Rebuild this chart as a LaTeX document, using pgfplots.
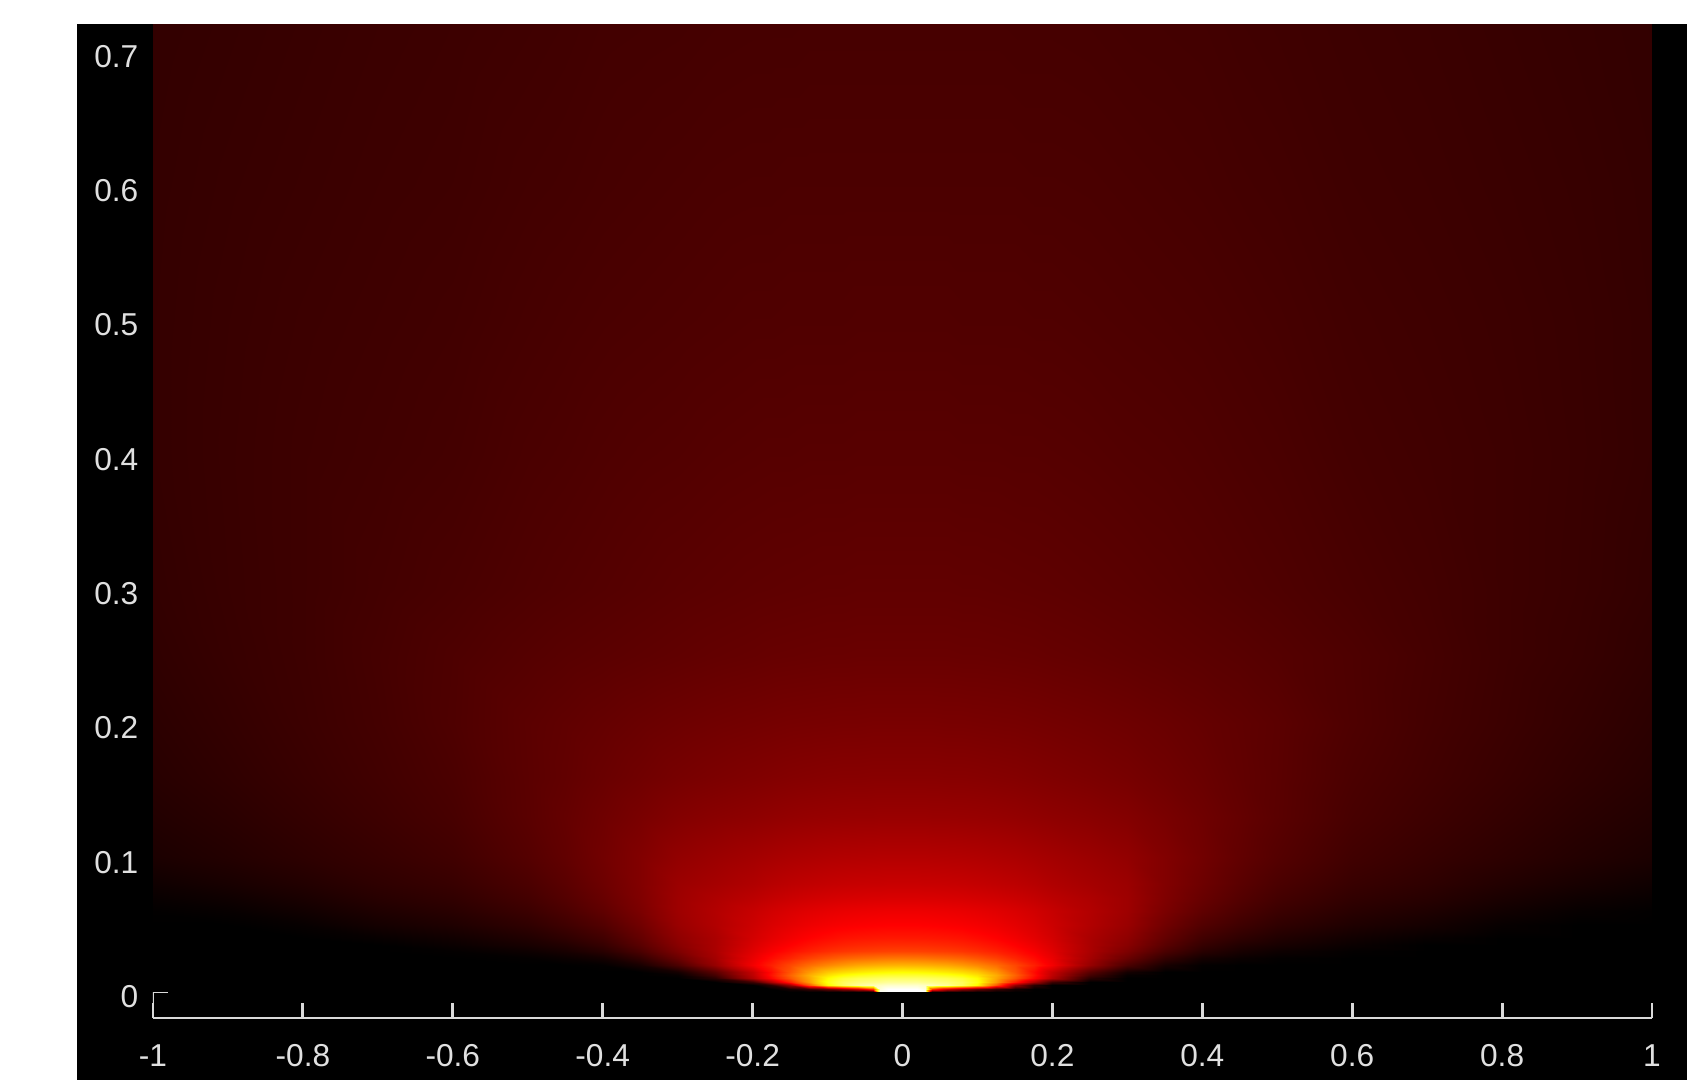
\documentclass[border=0pt]{standalone}
\usepackage{fontspec}
\setmainfont{Liberation Sans}
\usepackage{pgfplots}
\pgfplotsset{compat=1.18}
\begin{document}
\begin{tikzpicture}
\useasboundingbox (0,0) rectangle (404.88pt,259.2pt);
\fill[white] (0,0) rectangle (404.88pt,259.2pt);
\fill[black] (18.48pt,0) rectangle (404.88pt,253.44pt);
\begin{axis}[
  at={(36.72pt,14.88pt)}, anchor=south west,
  scale only axis, width=359.76pt, height=238.56pt,
  xmin=-1, xmax=1, ymin=-0.0195, ymax=0.7202,
  axis x line=bottom, axis y line=left,
  axis line style={-, draw=white!85!black, line width=0.7pt},
  y axis line style={draw=none},
  xtick={-1,-0.8,-0.6,-0.4,-0.2,0,0.2,0.4,0.6,0.8,1},
  ytick={0,0.1,0.2,0.3,0.4,0.5,0.6,0.7},
  tick style={draw=white!85!black, line width=0.7pt},
  y tick style={draw=none},
  extra y ticks={0}, extra y tick labels={},
  extra y tick style={y tick style={draw=white!85!black, line width=0.7pt}},
  major tick length=3.6pt, tick align=inside,
  ticklabel style={font=\fontsize{7.6}{8}\selectfont, text=white!88!black},
  xticklabel style={yshift=-2.85pt},
  yticklabel style={xshift=0pt, yshift=-1.2pt},
  /pgf/number format/assume math mode=true,
  /pgf/number format/fixed,
  colormap={hotm}{rgb255(0pt)=(0,0,0) rgb255(3pt)=(255,0,0) rgb255(6pt)=(255,255,0) rgb255(8pt)=(255,255,255)},
  point meta min=0, point meta max=1,
]
\draw[white!85!black, line width=0.7pt] (axis cs:-1,-0.0195) -- (axis cs:-1,0);
\addplot[surf, shader=interp, mesh/cols=43, point meta=\thisrow{t}] table {
x y t
-1 0 0
-0.9 0 0
-0.8 0 0
-0.7 0 0
-0.6 0 0
-0.5 0 0
-0.45 0 0
-0.4 0 0
-0.35 0 0
-0.3 0 0
-0.25 0 0
-0.2 0 0
-0.175 0 0
-0.15 0 0
-0.125 0 0
-0.1 0 0
-0.08 0 0
-0.06 0 0
-0.04 0 0
-0.03 0 1
-0.02 0 1
0 0 1
0.02 0 1
0.03 0 1
0.04 0 0
0.06 0 0
0.08 0 0
0.1 0 0
0.125 0 0
0.15 0 0
0.175 0 0
0.2 0 0
0.25 0 0
0.3 0 0
0.35 0 0
0.4 0 0
0.45 0 0
0.5 0 0
0.6 0 0
0.7 0 0
0.8 0 0
0.9 0 0
1 0 0
-1 0.002 0
-0.9 0.002 0
-0.8 0.002 0
-0.7 0.002 0
-0.6 0.002 0
-0.5 0.002 0
-0.45 0.002 0
-0.4 0.002 0
-0.35 0.002 0
-0.3 0.002 0
-0.25 0.002 0
-0.2 0.002 0
-0.175 0.002 0
-0.15 0.002 0.03
-0.125 0.002 0.08
-0.1 0.002 0.15
-0.08 0.002 0.22
-0.06 0.002 0.3
-0.04 0.002 0.45
-0.03 0.002 0.97
-0.02 0.002 1
0 0.002 1
0.02 0.002 1
0.03 0.002 0.97
0.04 0.002 0.45
0.06 0.002 0.3
0.08 0.002 0.22
0.1 0.002 0.15
0.125 0.002 0.08
0.15 0.002 0.03
0.175 0.002 0
0.2 0.002 0
0.25 0.002 0
0.3 0.002 0
0.35 0.002 0
0.4 0.002 0
0.45 0.002 0
0.5 0.002 0
0.6 0.002 0
0.7 0.002 0
0.8 0.002 0
0.9 0.002 0
1 0.002 0
-1 0.005 0
-0.9 0.005 0
-0.8 0.005 0
-0.7 0.005 0
-0.6 0.005 0
-0.5 0.005 0
-0.45 0.005 0
-0.4 0.005 0
-0.35 0.005 0
-0.3 0.005 0
-0.25 0.005 0
-0.2 0.005 0
-0.175 0.005 0.06
-0.15 0.005 0.22
-0.125 0.005 0.5
-0.1 0.005 0.74
-0.08 0.005 0.84
-0.06 0.005 0.9
-0.04 0.005 0.93
-0.03 0.005 0.94
-0.02 0.005 0.95
0 0.005 0.95
0.02 0.005 0.95
0.03 0.005 0.94
0.04 0.005 0.93
0.06 0.005 0.9
0.08 0.005 0.84
0.1 0.005 0.74
0.125 0.005 0.5
0.15 0.005 0.22
0.175 0.005 0.06
0.2 0.005 0
0.25 0.005 0
0.3 0.005 0
0.35 0.005 0
0.4 0.005 0
0.45 0.005 0
0.5 0.005 0
0.6 0.005 0
0.7 0.005 0
0.8 0.005 0
0.9 0.005 0
1 0.005 0
-1 0.0075 0
-0.9 0.0075 0
-0.8 0.0075 0
-0.7 0.0075 0
-0.6 0.0075 0
-0.5 0.0075 0
-0.45 0.0075 0
-0.4 0.0075 0
-0.35 0.0075 0
-0.3 0.0075 0
-0.25 0.0075 0
-0.2 0.0075 0.09
-0.175 0.0075 0.25
-0.15 0.0075 0.42
-0.125 0.0075 0.6
-0.1 0.0075 0.77
-0.08 0.0075 0.84
-0.06 0.0075 0.87
-0.04 0.0075 0.885
-0.03 0.0075 0.89
-0.02 0.0075 0.9
0 0.0075 0.9
0.02 0.0075 0.9
0.03 0.0075 0.89
0.04 0.0075 0.885
0.06 0.0075 0.87
0.08 0.0075 0.84
0.1 0.0075 0.77
0.125 0.0075 0.6
0.15 0.0075 0.42
0.175 0.0075 0.25
0.2 0.0075 0.09
0.25 0.0075 0
0.3 0.0075 0
0.35 0.0075 0
0.4 0.0075 0
0.45 0.0075 0
0.5 0.0075 0
0.6 0.0075 0
0.7 0.0075 0
0.8 0.0075 0
0.9 0.0075 0
1 0.0075 0
-1 0.01 0
-0.9 0.01 0
-0.8 0.01 0
-0.7 0.01 0
-0.6 0.01 0
-0.5 0.01 0
-0.45 0.01 0
-0.4 0.01 0
-0.35 0.01 0
-0.3 0.01 0
-0.25 0.01 0.06
-0.2 0.01 0.26
-0.175 0.01 0.38
-0.15 0.01 0.5
-0.125 0.01 0.62
-0.1 0.01 0.75
-0.08 0.01 0.805
-0.06 0.01 0.83
-0.04 0.01 0.84
-0.03 0.01 0.845
-0.02 0.01 0.85
0 0.01 0.85
0.02 0.01 0.85
0.03 0.01 0.845
0.04 0.01 0.84
0.06 0.01 0.83
0.08 0.01 0.805
0.1 0.01 0.75
0.125 0.01 0.62
0.15 0.01 0.5
0.175 0.01 0.38
0.2 0.01 0.26
0.25 0.01 0.06
0.3 0.01 0
0.35 0.01 0
0.4 0.01 0
0.45 0.01 0
0.5 0.01 0
0.6 0.01 0
0.7 0.01 0
0.8 0.01 0
0.9 0.01 0
1 0.01 0
-1 0.0125 0
-0.9 0.0125 0
-0.8 0.0125 0
-0.7 0.0125 0
-0.6 0.0125 0
-0.5 0.0125 0
-0.45 0.0125 0
-0.4 0.0125 0
-0.35 0.0125 0
-0.3 0.0125 0.01
-0.25 0.0125 0.1
-0.2 0.0125 0.28
-0.175 0.0125 0.4
-0.15 0.0125 0.52
-0.125 0.0125 0.63
-0.1 0.0125 0.71
-0.08 0.0125 0.75
-0.06 0.0125 0.775
-0.04 0.0125 0.79
-0.03 0.0125 0.795
-0.02 0.0125 0.8
0 0.0125 0.8
0.02 0.0125 0.8
0.03 0.0125 0.795
0.04 0.0125 0.79
0.06 0.0125 0.775
0.08 0.0125 0.75
0.1 0.0125 0.71
0.125 0.0125 0.63
0.15 0.0125 0.52
0.175 0.0125 0.4
0.2 0.0125 0.28
0.25 0.0125 0.1
0.3 0.0125 0.01
0.35 0.0125 0
0.4 0.0125 0
0.45 0.0125 0
0.5 0.0125 0
0.6 0.0125 0
0.7 0.0125 0
0.8 0.0125 0
0.9 0.0125 0
1 0.0125 0
-1 0.015 0
-0.9 0.015 0
-0.8 0.015 0
-0.7 0.015 0
-0.6 0.015 0
-0.5 0.015 0
-0.45 0.015 0
-0.4 0.015 0
-0.35 0.015 0
-0.3 0.015 0.03
-0.25 0.015 0.13
-0.2 0.015 0.29
-0.175 0.015 0.39
-0.15 0.015 0.5
-0.125 0.015 0.6
-0.1 0.015 0.67
-0.08 0.015 0.7
-0.06 0.015 0.72
-0.04 0.015 0.735
-0.03 0.015 0.74
-0.02 0.015 0.745
0 0.015 0.75
0.02 0.015 0.745
0.03 0.015 0.74
0.04 0.015 0.735
0.06 0.015 0.72
0.08 0.015 0.7
0.1 0.015 0.67
0.125 0.015 0.6
0.15 0.015 0.5
0.175 0.015 0.39
0.2 0.015 0.29
0.25 0.015 0.13
0.3 0.015 0.03
0.35 0.015 0
0.4 0.015 0
0.45 0.015 0
0.5 0.015 0
0.6 0.015 0
0.7 0.015 0
0.8 0.015 0
0.9 0.015 0
1 0.015 0
-1 0.02 0
-0.9 0.02 0
-0.8 0.02 0
-0.7 0.02 0
-0.6 0.02 0
-0.5 0.02 0
-0.45 0.02 0
-0.4 0.02 0.005
-0.35 0.02 0.035
-0.3 0.02 0.11
-0.25 0.02 0.22
-0.2 0.02 0.36
-0.175 0.02 0.42
-0.15 0.02 0.48
-0.125 0.02 0.535
-0.1 0.02 0.575
-0.08 0.02 0.6
-0.06 0.02 0.62
-0.04 0.02 0.63
-0.03 0.02 0.634
-0.02 0.02 0.637
0 0.02 0.64
0.02 0.02 0.637
0.03 0.02 0.634
0.04 0.02 0.63
0.06 0.02 0.62
0.08 0.02 0.6
0.1 0.02 0.575
0.125 0.02 0.535
0.15 0.02 0.48
0.175 0.02 0.42
0.2 0.02 0.36
0.25 0.02 0.22
0.3 0.02 0.11
0.35 0.02 0.035
0.4 0.02 0.005
0.45 0.02 0
0.5 0.02 0
0.6 0.02 0
0.7 0.02 0
0.8 0.02 0
0.9 0.02 0
1 0.02 0
-1 0.025 0
-0.9 0.025 0
-0.8 0.025 0
-0.7 0.025 0
-0.6 0.025 0
-0.5 0.025 0.005
-0.45 0.025 0.015
-0.4 0.025 0.03
-0.35 0.025 0.075
-0.3 0.025 0.155
-0.25 0.025 0.24
-0.2 0.025 0.345
-0.175 0.025 0.39
-0.15 0.025 0.43
-0.125 0.025 0.47
-0.1 0.025 0.5
-0.08 0.025 0.52
-0.06 0.025 0.532
-0.04 0.025 0.54
-0.03 0.025 0.545
-0.02 0.025 0.548
0 0.025 0.55
0.02 0.025 0.548
0.03 0.025 0.545
0.04 0.025 0.54
0.06 0.025 0.532
0.08 0.025 0.52
0.1 0.025 0.5
0.125 0.025 0.47
0.15 0.025 0.43
0.175 0.025 0.39
0.2 0.025 0.345
0.25 0.025 0.24
0.3 0.025 0.155
0.35 0.025 0.075
0.4 0.025 0.03
0.45 0.025 0.015
0.5 0.025 0.005
0.6 0.025 0
0.7 0.025 0
0.8 0.025 0
0.9 0.025 0
1 0.025 0
-1 0.03 0
-0.9 0.03 0
-0.8 0.03 0
-0.7 0.03 0
-0.6 0.03 0.005
-0.5 0.03 0.02
-0.45 0.03 0.035
-0.4 0.03 0.06
-0.35 0.03 0.11
-0.3 0.03 0.185
-0.25 0.03 0.25
-0.2 0.03 0.33
-0.175 0.03 0.365
-0.15 0.03 0.395
-0.125 0.03 0.42
-0.1 0.03 0.44
-0.08 0.03 0.452
-0.06 0.03 0.46
-0.04 0.03 0.465
-0.03 0.03 0.467
-0.02 0.03 0.469
0 0.03 0.47
0.02 0.03 0.469
0.03 0.03 0.467
0.04 0.03 0.465
0.06 0.03 0.46
0.08 0.03 0.452
0.1 0.03 0.44
0.125 0.03 0.42
0.15 0.03 0.395
0.175 0.03 0.365
0.2 0.03 0.33
0.25 0.03 0.25
0.3 0.03 0.185
0.35 0.03 0.11
0.4 0.03 0.06
0.45 0.03 0.035
0.5 0.03 0.02
0.6 0.03 0.005
0.7 0.03 0
0.8 0.03 0
0.9 0.03 0
1 0.03 0
-1 0.035 0
-0.9 0.035 0
-0.8 0.035 0
-0.7 0.035 0
-0.6 0.035 0.015
-0.5 0.035 0.035
-0.45 0.035 0.05
-0.4 0.035 0.078
-0.35 0.035 0.13
-0.3 0.035 0.2
-0.25 0.035 0.25
-0.2 0.035 0.32
-0.175 0.035 0.35
-0.15 0.035 0.375
-0.125 0.035 0.398
-0.1 0.035 0.415
-0.08 0.035 0.425
-0.06 0.035 0.432
-0.04 0.035 0.436
-0.03 0.035 0.438
-0.02 0.035 0.439
0 0.035 0.44
0.02 0.035 0.439
0.03 0.035 0.438
0.04 0.035 0.436
0.06 0.035 0.432
0.08 0.035 0.425
0.1 0.035 0.415
0.125 0.035 0.398
0.15 0.035 0.375
0.175 0.035 0.35
0.2 0.035 0.32
0.25 0.035 0.25
0.3 0.035 0.2
0.35 0.035 0.13
0.4 0.035 0.078
0.45 0.035 0.05
0.5 0.035 0.035
0.6 0.035 0.015
0.7 0.035 0
0.8 0.035 0
0.9 0.035 0
1 0.035 0
-1 0.04 0
-0.9 0.04 0
-0.8 0.04 0
-0.7 0.04 0.01
-0.6 0.04 0.025
-0.5 0.04 0.048
-0.45 0.04 0.068
-0.4 0.04 0.095
-0.35 0.04 0.145
-0.3 0.04 0.21
-0.25 0.04 0.25
-0.2 0.04 0.31
-0.175 0.04 0.335
-0.15 0.04 0.357
-0.125 0.04 0.376
-0.1 0.04 0.39
-0.08 0.04 0.4
-0.06 0.04 0.405
-0.04 0.04 0.408
-0.03 0.04 0.409
-0.02 0.04 0.41
0 0.04 0.41
0.02 0.04 0.41
0.03 0.04 0.409
0.04 0.04 0.408
0.06 0.04 0.405
0.08 0.04 0.4
0.1 0.04 0.39
0.125 0.04 0.376
0.15 0.04 0.357
0.175 0.04 0.335
0.2 0.04 0.31
0.25 0.04 0.25
0.3 0.04 0.21
0.35 0.04 0.145
0.4 0.04 0.095
0.45 0.04 0.068
0.5 0.04 0.048
0.6 0.04 0.025
0.7 0.04 0.01
0.8 0.04 0
0.9 0.04 0
1 0.04 0
-1 0.05 0
-0.9 0.05 0
-0.8 0.05 0.01
-0.7 0.05 0.03
-0.6 0.05 0.045
-0.5 0.05 0.07
-0.45 0.05 0.092
-0.4 0.05 0.12
-0.35 0.05 0.165
-0.3 0.05 0.225
-0.25 0.05 0.26
-0.2 0.05 0.3
-0.175 0.05 0.32
-0.15 0.05 0.336
-0.125 0.05 0.35
-0.1 0.05 0.36
-0.08 0.05 0.366
-0.06 0.05 0.37
-0.04 0.05 0.373
-0.03 0.05 0.374
-0.02 0.05 0.375
0 0.05 0.375
0.02 0.05 0.375
0.03 0.05 0.374
0.04 0.05 0.373
0.06 0.05 0.37
0.08 0.05 0.366
0.1 0.05 0.36
0.125 0.05 0.35
0.15 0.05 0.336
0.175 0.05 0.32
0.2 0.05 0.3
0.25 0.05 0.26
0.3 0.05 0.225
0.35 0.05 0.165
0.4 0.05 0.12
0.45 0.05 0.092
0.5 0.05 0.07
0.6 0.05 0.045
0.7 0.05 0.03
0.8 0.05 0.01
0.9 0.05 0
1 0.05 0
-1 0.06 0.003
-0.9 0.06 0.01
-0.8 0.06 0.025
-0.7 0.06 0.045
-0.6 0.06 0.06
-0.5 0.06 0.087
-0.45 0.06 0.11
-0.4 0.06 0.14
-0.35 0.06 0.18
-0.3 0.06 0.232
-0.25 0.06 0.262
-0.2 0.06 0.292
-0.175 0.06 0.307
-0.15 0.06 0.32
-0.125 0.06 0.33
-0.1 0.06 0.338
-0.08 0.06 0.343
-0.06 0.06 0.346
-0.04 0.06 0.348
-0.03 0.06 0.349
-0.02 0.06 0.35
0 0.06 0.35
0.02 0.06 0.35
0.03 0.06 0.349
0.04 0.06 0.348
0.06 0.06 0.346
0.08 0.06 0.343
0.1 0.06 0.338
0.125 0.06 0.33
0.15 0.06 0.32
0.175 0.06 0.307
0.2 0.06 0.292
0.25 0.06 0.262
0.3 0.06 0.232
0.35 0.06 0.18
0.4 0.06 0.14
0.45 0.06 0.11
0.5 0.06 0.087
0.6 0.06 0.06
0.7 0.06 0.045
0.8 0.06 0.025
0.9 0.06 0.01
1 0.06 0.003
-1 0.07 0.012
-0.9 0.07 0.022
-0.8 0.07 0.038
-0.7 0.07 0.058
-0.6 0.07 0.072
-0.5 0.07 0.1
-0.45 0.07 0.123
-0.4 0.07 0.152
-0.35 0.07 0.187
-0.3 0.07 0.232
-0.25 0.07 0.255
-0.2 0.07 0.275
-0.175 0.07 0.287
-0.15 0.07 0.297
-0.125 0.07 0.305
-0.1 0.07 0.311
-0.08 0.07 0.315
-0.06 0.07 0.317
-0.04 0.07 0.319
-0.03 0.07 0.319
-0.02 0.07 0.32
0 0.07 0.32
0.02 0.07 0.32
0.03 0.07 0.319
0.04 0.07 0.319
0.06 0.07 0.317
0.08 0.07 0.315
0.1 0.07 0.311
0.125 0.07 0.305
0.15 0.07 0.297
0.175 0.07 0.287
0.2 0.07 0.275
0.25 0.07 0.255
0.3 0.07 0.232
0.35 0.07 0.187
0.4 0.07 0.152
0.45 0.07 0.123
0.5 0.07 0.1
0.6 0.07 0.072
0.7 0.07 0.058
0.8 0.07 0.038
0.9 0.07 0.022
1 0.07 0.012
-1 0.08 0.022
-0.9 0.08 0.035
-0.8 0.08 0.05
-0.7 0.08 0.068
-0.6 0.08 0.082
-0.5 0.08 0.11
-0.45 0.08 0.132
-0.4 0.08 0.16
-0.35 0.08 0.19
-0.3 0.08 0.228
-0.25 0.08 0.243
-0.2 0.08 0.259
-0.175 0.08 0.269
-0.15 0.08 0.277
-0.125 0.08 0.283
-0.1 0.08 0.288
-0.08 0.08 0.291
-0.06 0.08 0.293
-0.04 0.08 0.294
-0.03 0.08 0.294
-0.02 0.08 0.295
0 0.08 0.295
0.02 0.08 0.295
0.03 0.08 0.294
0.04 0.08 0.294
0.06 0.08 0.293
0.08 0.08 0.291
0.1 0.08 0.288
0.125 0.08 0.283
0.15 0.08 0.277
0.175 0.08 0.269
0.2 0.08 0.259
0.25 0.08 0.243
0.3 0.08 0.228
0.35 0.08 0.19
0.4 0.08 0.16
0.45 0.08 0.132
0.5 0.08 0.11
0.6 0.08 0.082
0.7 0.08 0.068
0.8 0.08 0.05
0.9 0.08 0.035
1 0.08 0.022
-1 0.1 0.04
-0.9 0.1 0.052
-0.8 0.1 0.066
-0.7 0.1 0.08
-0.6 0.1 0.095
-0.5 0.1 0.124
-0.45 0.1 0.143
-0.4 0.1 0.167
-0.35 0.1 0.19
-0.3 0.1 0.215
-0.25 0.1 0.228
-0.2 0.1 0.24
-0.175 0.1 0.246
-0.15 0.1 0.252
-0.125 0.1 0.256
-0.1 0.1 0.26
-0.08 0.1 0.262
-0.06 0.1 0.263
-0.04 0.1 0.264
-0.03 0.1 0.265
-0.02 0.1 0.265
0 0.1 0.265
0.02 0.1 0.265
0.03 0.1 0.265
0.04 0.1 0.264
0.06 0.1 0.263
0.08 0.1 0.262
0.1 0.1 0.26
0.125 0.1 0.256
0.15 0.1 0.252
0.175 0.1 0.246
0.2 0.1 0.24
0.25 0.1 0.228
0.3 0.1 0.215
0.35 0.1 0.19
0.4 0.1 0.167
0.45 0.1 0.143
0.5 0.1 0.124
0.6 0.1 0.095
0.7 0.1 0.08
0.8 0.1 0.066
0.9 0.1 0.052
1 0.1 0.04
-1 0.13 0.05
-0.9 0.13 0.062
-0.8 0.13 0.076
-0.7 0.13 0.09
-0.6 0.13 0.105
-0.5 0.13 0.132
-0.45 0.13 0.147
-0.4 0.13 0.163
-0.35 0.13 0.178
-0.3 0.13 0.193
-0.25 0.13 0.202
-0.2 0.13 0.209
-0.175 0.13 0.213
-0.15 0.13 0.217
-0.125 0.13 0.22
-0.1 0.13 0.222
-0.08 0.13 0.223
-0.06 0.13 0.224
-0.04 0.13 0.224
-0.03 0.13 0.225
-0.02 0.13 0.225
0 0.13 0.225
0.02 0.13 0.225
0.03 0.13 0.225
0.04 0.13 0.224
0.06 0.13 0.224
0.08 0.13 0.223
0.1 0.13 0.222
0.125 0.13 0.22
0.15 0.13 0.217
0.175 0.13 0.213
0.2 0.13 0.209
0.25 0.13 0.202
0.3 0.13 0.193
0.35 0.13 0.178
0.4 0.13 0.163
0.45 0.13 0.147
0.5 0.13 0.132
0.6 0.13 0.105
0.7 0.13 0.09
0.8 0.13 0.076
0.9 0.13 0.062
1 0.13 0.05
-1 0.16 0.058
-0.9 0.16 0.07
-0.8 0.16 0.083
-0.7 0.16 0.096
-0.6 0.16 0.11
-0.5 0.16 0.133
-0.45 0.16 0.143
-0.4 0.16 0.155
-0.35 0.16 0.165
-0.3 0.16 0.175
-0.25 0.16 0.182
-0.2 0.16 0.188
-0.175 0.16 0.191
-0.15 0.16 0.194
-0.125 0.16 0.196
-0.1 0.16 0.198
-0.08 0.16 0.199
-0.06 0.16 0.199
-0.04 0.16 0.2
-0.03 0.16 0.2
-0.02 0.16 0.2
0 0.16 0.2
0.02 0.16 0.2
0.03 0.16 0.2
0.04 0.16 0.2
0.06 0.16 0.199
0.08 0.16 0.199
0.1 0.16 0.198
0.125 0.16 0.196
0.15 0.16 0.194
0.175 0.16 0.191
0.2 0.16 0.188
0.25 0.16 0.182
0.3 0.16 0.175
0.35 0.16 0.165
0.4 0.16 0.155
0.45 0.16 0.143
0.5 0.16 0.133
0.6 0.16 0.11
0.7 0.16 0.096
0.8 0.16 0.083
0.9 0.16 0.07
1 0.16 0.058
-1 0.2 0.064
-0.9 0.2 0.076
-0.8 0.2 0.088
-0.7 0.2 0.1
-0.6 0.2 0.115
-0.5 0.2 0.134
-0.45 0.2 0.141
-0.4 0.2 0.148
-0.35 0.2 0.155
-0.3 0.2 0.161
-0.25 0.2 0.166
-0.2 0.2 0.17
-0.175 0.2 0.172
-0.15 0.2 0.174
-0.125 0.2 0.175
-0.1 0.2 0.176
-0.08 0.2 0.177
-0.06 0.2 0.177
-0.04 0.2 0.178
-0.03 0.2 0.178
-0.02 0.2 0.178
0 0.2 0.178
0.02 0.2 0.178
0.03 0.2 0.178
0.04 0.2 0.178
0.06 0.2 0.177
0.08 0.2 0.177
0.1 0.2 0.176
0.125 0.2 0.175
0.15 0.2 0.174
0.175 0.2 0.172
0.2 0.2 0.17
0.25 0.2 0.166
0.3 0.2 0.161
0.35 0.2 0.155
0.4 0.2 0.148
0.45 0.2 0.141
0.5 0.2 0.134
0.6 0.2 0.115
0.7 0.2 0.1
0.8 0.2 0.088
0.9 0.2 0.076
1 0.2 0.064
-1 0.25 0.07
-0.9 0.25 0.081
-0.8 0.25 0.09
-0.7 0.25 0.102
-0.6 0.25 0.114
-0.5 0.25 0.125
-0.45 0.25 0.13
-0.4 0.25 0.134
-0.35 0.25 0.138
-0.3 0.25 0.142
-0.25 0.25 0.146
-0.2 0.25 0.149
-0.175 0.25 0.151
-0.15 0.25 0.152
-0.125 0.25 0.153
-0.1 0.25 0.154
-0.08 0.25 0.154
-0.06 0.25 0.155
-0.04 0.25 0.155
-0.03 0.25 0.155
-0.02 0.25 0.155
0 0.25 0.155
0.02 0.25 0.155
0.03 0.25 0.155
0.04 0.25 0.155
0.06 0.25 0.155
0.08 0.25 0.154
0.1 0.25 0.154
0.125 0.25 0.153
0.15 0.25 0.152
0.175 0.25 0.151
0.2 0.25 0.149
0.25 0.25 0.146
0.3 0.25 0.142
0.35 0.25 0.138
0.4 0.25 0.134
0.45 0.25 0.13
0.5 0.25 0.125
0.6 0.25 0.114
0.7 0.25 0.102
0.8 0.25 0.09
0.9 0.25 0.081
1 0.25 0.07
-1 0.3 0.074
-0.9 0.3 0.083
-0.8 0.3 0.09
-0.7 0.3 0.099
-0.6 0.3 0.107
-0.5 0.3 0.116
-0.45 0.3 0.12
-0.4 0.3 0.124
-0.35 0.3 0.128
-0.3 0.3 0.132
-0.25 0.3 0.135
-0.2 0.3 0.138
-0.175 0.3 0.139
-0.15 0.3 0.14
-0.125 0.3 0.141
-0.1 0.3 0.142
-0.08 0.3 0.142
-0.06 0.3 0.143
-0.04 0.3 0.143
-0.03 0.3 0.143
-0.02 0.3 0.143
0 0.3 0.143
0.02 0.3 0.143
0.03 0.3 0.143
0.04 0.3 0.143
0.06 0.3 0.143
0.08 0.3 0.142
0.1 0.3 0.142
0.125 0.3 0.141
0.15 0.3 0.14
0.175 0.3 0.139
0.2 0.3 0.138
0.25 0.3 0.135
0.3 0.3 0.132
0.35 0.3 0.128
0.4 0.3 0.124
0.45 0.3 0.12
0.5 0.3 0.116
0.6 0.3 0.107
0.7 0.3 0.099
0.8 0.3 0.09
0.9 0.3 0.083
1 0.3 0.074
-1 0.4 0.077
-0.9 0.4 0.084
-0.8 0.4 0.09
-0.7 0.4 0.095
-0.6 0.4 0.1
-0.5 0.4 0.109
-0.45 0.4 0.112
-0.4 0.4 0.116
-0.35 0.4 0.119
-0.3 0.4 0.121
-0.25 0.4 0.124
-0.2 0.4 0.126
-0.175 0.4 0.127
-0.15 0.4 0.127
-0.125 0.4 0.128
-0.1 0.4 0.128
-0.08 0.4 0.128
-0.06 0.4 0.129
-0.04 0.4 0.129
-0.03 0.4 0.129
-0.02 0.4 0.129
0 0.4 0.129
0.02 0.4 0.129
0.03 0.4 0.129
0.04 0.4 0.129
0.06 0.4 0.129
0.08 0.4 0.128
0.1 0.4 0.128
0.125 0.4 0.128
0.15 0.4 0.127
0.175 0.4 0.127
0.2 0.4 0.126
0.25 0.4 0.124
0.3 0.4 0.121
0.35 0.4 0.119
0.4 0.4 0.116
0.45 0.4 0.112
0.5 0.4 0.109
0.6 0.4 0.1
0.7 0.4 0.095
0.8 0.4 0.09
0.9 0.4 0.084
1 0.4 0.077
-1 0.5 0.077
-0.9 0.5 0.083
-0.8 0.5 0.088
-0.7 0.5 0.092
-0.6 0.5 0.096
-0.5 0.5 0.103
-0.45 0.5 0.106
-0.4 0.5 0.109
-0.35 0.5 0.111
-0.3 0.5 0.113
-0.25 0.5 0.115
-0.2 0.5 0.117
-0.175 0.5 0.117
-0.15 0.5 0.118
-0.125 0.5 0.118
-0.1 0.5 0.118
-0.08 0.5 0.118
-0.06 0.5 0.119
-0.04 0.5 0.119
-0.03 0.5 0.119
-0.02 0.5 0.119
0 0.5 0.119
0.02 0.5 0.119
0.03 0.5 0.119
0.04 0.5 0.119
0.06 0.5 0.119
0.08 0.5 0.118
0.1 0.5 0.118
0.125 0.5 0.118
0.15 0.5 0.118
0.175 0.5 0.117
0.2 0.5 0.117
0.25 0.5 0.115
0.3 0.5 0.113
0.35 0.5 0.111
0.4 0.5 0.109
0.45 0.5 0.106
0.5 0.5 0.103
0.6 0.5 0.096
0.7 0.5 0.092
0.8 0.5 0.088
0.9 0.5 0.083
1 0.5 0.077
-1 0.6 0.076
-0.9 0.6 0.081
-0.8 0.6 0.085
-0.7 0.6 0.089
-0.6 0.6 0.092
-0.5 0.6 0.098
-0.45 0.6 0.1
-0.4 0.6 0.103
-0.35 0.6 0.105
-0.3 0.6 0.107
-0.25 0.6 0.109
-0.2 0.6 0.11
-0.175 0.6 0.11
-0.15 0.6 0.111
-0.125 0.6 0.111
-0.1 0.6 0.111
-0.08 0.6 0.111
-0.06 0.6 0.111
-0.04 0.6 0.111
-0.03 0.6 0.111
-0.02 0.6 0.111
0 0.6 0.111
0.02 0.6 0.111
0.03 0.6 0.111
0.04 0.6 0.111
0.06 0.6 0.111
0.08 0.6 0.111
0.1 0.6 0.111
0.125 0.6 0.111
0.15 0.6 0.111
0.175 0.6 0.11
0.2 0.6 0.11
0.25 0.6 0.109
0.3 0.6 0.107
0.35 0.6 0.105
0.4 0.6 0.103
0.45 0.6 0.1
0.5 0.6 0.098
0.6 0.6 0.092
0.7 0.6 0.089
0.8 0.6 0.085
0.9 0.6 0.081
1 0.6 0.076
-1 0.7202 0.074
-0.9 0.7202 0.078
-0.8 0.7202 0.082
-0.7 0.7202 0.086
-0.6 0.7202 0.089
-0.5 0.7202 0.093
-0.45 0.7202 0.095
-0.4 0.7202 0.098
-0.35 0.7202 0.099
-0.3 0.7202 0.1
-0.25 0.7202 0.102
-0.2 0.7202 0.103
-0.175 0.7202 0.103
-0.15 0.7202 0.103
-0.125 0.7202 0.104
-0.1 0.7202 0.104
-0.08 0.7202 0.104
-0.06 0.7202 0.104
-0.04 0.7202 0.104
-0.03 0.7202 0.104
-0.02 0.7202 0.104
0 0.7202 0.104
0.02 0.7202 0.104
0.03 0.7202 0.104
0.04 0.7202 0.104
0.06 0.7202 0.104
0.08 0.7202 0.104
0.1 0.7202 0.104
0.125 0.7202 0.104
0.15 0.7202 0.103
0.175 0.7202 0.103
0.2 0.7202 0.103
0.25 0.7202 0.102
0.3 0.7202 0.1
0.35 0.7202 0.099
0.4 0.7202 0.098
0.45 0.7202 0.095
0.5 0.7202 0.093
0.6 0.7202 0.089
0.7 0.7202 0.086
0.8 0.7202 0.082
0.9 0.7202 0.078
1 0.7202 0.074
};
\end{axis}
\end{tikzpicture}
\end{document}
